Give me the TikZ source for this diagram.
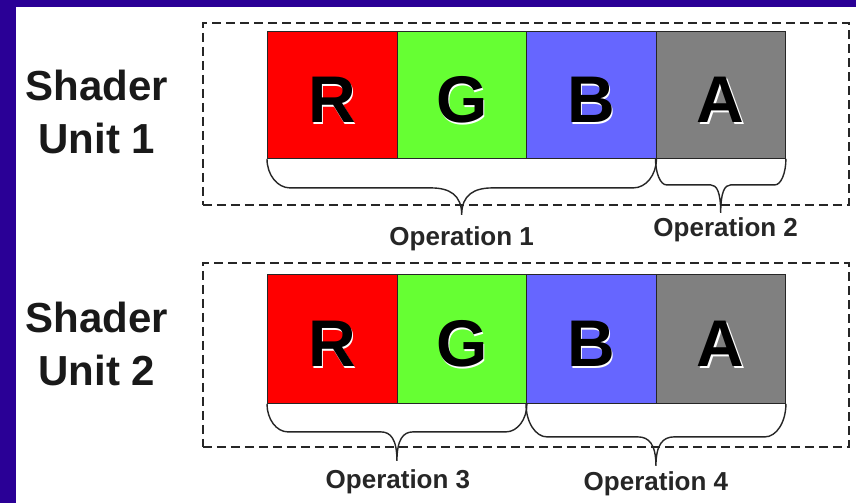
\documentclass[tikz,border=0pt]{standalone}
\usepackage{fontspec}
\setmainfont{Liberation Sans}
\usetikzlibrary{calc}

\definecolor{slideblue}{RGB}{42,0,150}
\definecolor{chR}{RGB}{255,0,0}
\definecolor{chG}{RGB}{102,255,51}
\definecolor{chB}{RGB}{102,102,255}
\definecolor{chA}{RGB}{128,128,128}

% black letter with a thin white relief to the lower right
\newcommand\embossed[1]{\makebox[0pt][l]{\hspace{1.6pt}\raisebox{-1.6pt}{\color{white}#1}}#1}

% curly brace under a run of channels: from, to, tip name, depth, tip depth, end run, tip run
\newcommand\opbrace[7]{%
  \path (#1) -- (#2) coordinate[pos=0.5] (#3-m);
  \draw[brace] (#1) .. controls ($(#1)+(0,0.55*#4)$) and ($(#1)+(0.45*#6,#4)$) .. ($(#1)+(#6,#4)$)
    -- ($(#3-m)+(-#7,#4)$) .. controls ($(#3-m)+(-0.4*#7,#4)$) and ($(#3-m)+(0,#4+0.25*#5-0.25*#4)$) .. ($(#3-m)+(0,#5)$) coordinate (#3)
    .. controls ($(#3-m)+(0,#4+0.25*#5-0.25*#4)$) and ($(#3-m)+(0.4*#7,#4)$) .. ($(#3-m)+(#7,#4)$)
    -- ($(#2)+(-#6,#4)$) .. controls ($(#2)+(-0.45*#6,#4)$) and ($(#2)+(0,0.55*#4)$) .. (#2);
}

\begin{document}
\begin{tikzpicture}[x=1pt,y=-1pt,
  channel/.style={draw=black!85, line width=0.9pt, minimum width=129.5pt,
    anchor=north west, inner sep=0pt, text height=55pt, text depth=0pt,
    font=\fontsize{66}{66}\selectfont\bfseries},
  unitframe/.style={draw=black!85, line width=1.8pt, dash pattern=on 9pt off 5pt,
    anchor=north west, inner sep=0pt, minimum width=646pt},
  unitname/.style={align=center, anchor=base, text=black!90,
    font=\fontsize{42}{53}\selectfont\bfseries},
  brace/.style={draw=black!85, line width=1.4pt},
  oplabel/.style={anchor=base, text=black!85, font=\fontsize{26}{26}\selectfont\bfseries}]

\useasboundingbox (0,0) rectangle (856,503);
\fill[white] (0,0) rectangle (856,503);
\fill[slideblue] (0,0) rectangle (16,503);
\fill[slideblue] (0,0) rectangle (856,7.5);

% unit frames
\node[unitframe, minimum height=182pt] (u1) at (202,22) {};
\node[unitframe, minimum height=184pt] (u2) at (202,262) {};

% unit names (placed by the baseline of their last line)
\node[unitname] (su1) at (97,153) {Shader\\Unit 1};
\node[unitname] (su2) at (97,385) {Shader\\Unit 2};

% shader unit 1 channels
\node[channel, minimum height=127pt, fill=chR] (r1) at (267,31) {\embossed{R}};
\node[channel, minimum height=127pt, fill=chG] (g1) at (396.5,31) {\embossed{G}};
\node[channel, minimum height=127pt, fill=chB] (b1) at (526,31) {\embossed{B}};
\node[channel, minimum height=127pt, fill=chA] (a1) at (655.5,31) {\embossed{A}};

% shader unit 2 channels
\node[channel, minimum height=129pt, fill=chR] (r2) at (267,274) {\embossed{R}};
\node[channel, minimum height=129pt, fill=chG] (g2) at (396.5,274) {\embossed{G}};
\node[channel, minimum height=129pt, fill=chB] (b2) at (526,274) {\embossed{B}};
\node[channel, minimum height=129pt, fill=chA] (a2) at (655.5,274) {\embossed{A}};

% operation braces
\opbrace{r1.south west}{b1.south east}{t1}{29}{56}{23}{31}
\opbrace{a1.south west}{a1.south east}{t2}{26}{54}{11}{10}
\opbrace{r2.south west}{g2.south east}{t3}{28}{57}{21}{16}
\opbrace{b2.south west}{a2.south east}{t4}{33}{62}{21}{18}

% operation labels
\node[oplabel] (op1) at ($(t1)+(0,31)$) {Operation 1};
\node[oplabel] (op2) at ($(t2)+(5,24)$) {Operation 2};
\node[oplabel] (op3) at ($(t3)+(1,28)$) {Operation 3};
\node[oplabel] (op4) at ($(t4)+(0,25)$) {Operation 4};
\end{tikzpicture}
\end{document}
